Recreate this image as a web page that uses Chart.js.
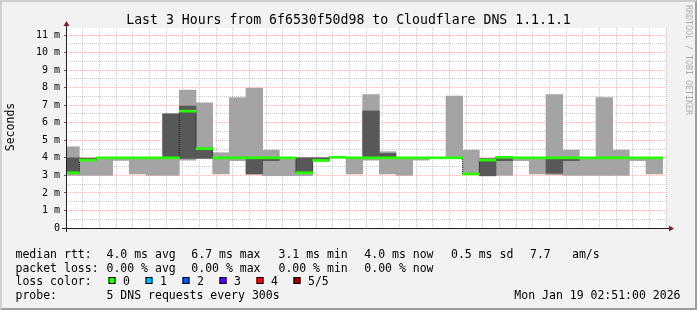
<!DOCTYPE html>
<html>
<head>
<meta charset="utf-8">
<title>Last 3 Hours from 6f6530f50d98 to Cloudflare DNS 1.1.1.1</title>
<script src="https://cdn.jsdelivr.net/npm/chart.js@4.4.1/dist/chart.umd.min.js"></script>
<style>
    html, body { margin: 0; padding: 0; background: #f2f2f2; }
    #wrap { width: 697px; height: 310px; }
</style>
</head>
<body>
<div id="wrap"><canvas id="rttChart" width="697" height="310"></canvas></div>
<script>
// Smokeping style RTT graph - 5 pings per 300s slot, sorted low -> high

const startTime = '23:51';
const endTime = '02:51';

// end time of each 5 minute slot
const slotEnds = [
    '23:55', '00:00', '00:05', '00:10', '00:15', '00:20', '00:25', '00:30', '00:35',
    '00:40', '00:45', '00:50', '00:55', '01:00', '01:05', '01:10', '01:15', '01:20',
    '01:25', '01:30', '01:35', '01:40', '01:45', '01:50', '01:55', '02:00', '02:05',
    '02:10', '02:15', '02:20', '02:25', '02:30', '02:35', '02:40', '02:45', '02:50'
];

// ms, one value per slot
const pingMin = [
    3.00, 3.00, 3.00, 3.85, 3.08, 3.00, 3.00, 3.87, 3.96, 3.08, 3.84, 3.07,
    2.98, 2.98, 2.98, 3.82, 4.00, 3.08, 3.87, 3.08, 3.00, 3.87, 3.99, 3.99,
    3.06, 2.97, 3.00, 3.84, 3.08, 3.04, 3.00, 3.00, 3.00, 3.00, 3.84, 3.08
];
const ping2 = [
    3.12, 3.85, 3.98, 3.98, 3.98, 3.98, 3.98, 3.97, 3.97, 3.99, 3.98, 3.08,
    3.84, 3.99, 3.12, 3.83, 4.01, 3.99, 3.98, 3.98, 3.99, 3.99, 3.99, 3.99,
    3.07, 2.98, 3.84, 3.99, 3.99, 3.12, 3.84, 3.99, 3.99, 3.99, 3.99, 3.99
];
const medianRtt = [
    3.15, 3.87, 4.00, 4.00, 4.00, 4.00, 4.00, 6.66, 4.52, 4.00, 4.00, 4.00,
    4.00, 4.00, 3.15, 3.85, 4.03, 4.00, 4.00, 4.00, 4.00, 4.00, 4.00, 4.00,
    3.08, 3.87, 4.03, 4.00, 4.00, 4.00, 4.00, 4.00, 4.00, 4.00, 4.00, 4.00
];
const ping4 = [
    4.00, 3.97, 4.01, 4.01, 4.01, 4.01, 6.50, 6.95, 4.55, 4.01, 4.02, 4.02,
    4.02, 4.01, 4.00, 4.00, 4.04, 4.01, 6.67, 4.25, 4.01, 4.01, 4.01, 4.01,
    3.10, 3.95, 4.05, 4.01, 4.01, 4.02, 4.02, 4.01, 4.01, 4.01, 4.01, 4.01
];
const pingMax = [
    4.63, 4.00, 4.02, 4.02, 4.02, 4.02, 6.52, 7.86, 7.14, 4.29, 7.43, 7.98,
    4.44, 4.02, 4.01, 4.01, 4.05, 4.02, 7.60, 4.35, 4.02, 4.02, 4.02, 7.52,
    4.44, 3.97, 4.05, 4.02, 4.02, 7.60, 4.44, 4.02, 7.43, 4.44, 4.02, 4.02
];

// legend
const rttStats = ['4.0 ms avg', '6.7 ms max', '3.1 ms min', '4.0 ms now', '0.5 ms sd'];
const lossStats = ['0.00 % avg', '0.00 % max', '0.00 % min', '0.00 % now'];
const amPerSec = '7.7';
const lossLabels = ['0', '1', '2', '3', '4', '5/5'];
const lossColors = ['#26ff00', '#00b8ff', '#0059ff', '#5e00ff', '#ff0000', '#a00000'];
const probeText = '5 DNS requests every 300s';
const stampText = 'Mon Jan 19 02:51:00 2026';
const titleText = 'Last 3 Hours from 6f6530f50d98 to Cloudflare DNS 1.1.1.1';

const yMax = 11.4;
const plotHeight = 200;
const MONO = '"DejaVu Sans Mono", "Liberation Mono", monospace';
const MAJOR_GRID = 'rgba(232, 90, 90, 0.42)';
const MINOR_GRID = 'rgba(150, 150, 150, 0.5)';

/**
 * 'HH:MM' -> minutes relative to 00:00 (previous evening negative)
 */
function toMinutes(hhmm) {
    const [h, m] = hhmm.split(':').map(Number);
    const mins = h * 60 + m;
    return h >= 12 ? mins - 1440 : mins;
}

function formatClock(mins) {
    const t = (mins + 1440) % 1440;
    const h = Math.floor(t / 60);
    const m = t % 60;
    return String(h).padStart(2, '0') + ':' + String(m).padStart(2, '0');
}

const slotCenters = slotEnds.map(t => toMinutes(t) - 2.5);
const bandHalf = yMax / plotHeight; // one pixel in ms

const outerSmoke = slotCenters.map((x, i) => ({ x: x, y: [pingMin[i], pingMax[i]] }));
const innerSmoke = slotCenters.map((x, i) => ({ x: x, y: [ping2[i], ping4[i]] }));
const medianBand = slotCenters.map((x, i) => ({ x: x, y: [medianRtt[i] - bandHalf, medianRtt[i] + bandHalf] }));
const medianLine = slotCenters.map((x, i) => ({ x: x, y: medianRtt[i] }));

function text(ctx, str, x, y, font, align, color) {
    ctx.font = font;
    ctx.textAlign = align || 'left';
    ctx.textBaseline = 'alphabetic';
    ctx.fillStyle = color || '#000000';
    ctx.fillText(str, x, y);
}

const smokeFrame = {
    id: 'smokeFrame',
    beforeDraw(chart) {
        const { ctx, chartArea: a } = chart;
        const W = chart.width, H = chart.height;
        ctx.save();
        ctx.fillStyle = '#f2f2f2';
        ctx.fillRect(0, 0, W, H);
        // 3d border
        ctx.fillStyle = '#cfcfcf';
        ctx.beginPath();
        ctx.moveTo(0, 0); ctx.lineTo(W, 0); ctx.lineTo(W - 2, 2); ctx.lineTo(2, 2);
        ctx.lineTo(2, H - 2); ctx.lineTo(0, H); ctx.closePath(); ctx.fill();
        ctx.fillStyle = '#9e9e9e';
        ctx.beginPath();
        ctx.moveTo(W, 0); ctx.lineTo(W, H); ctx.lineTo(0, H); ctx.lineTo(2, H - 2);
        ctx.lineTo(W - 2, H - 2); ctx.lineTo(W - 2, 2); ctx.closePath(); ctx.fill();
        ctx.fillStyle = '#ffffff';
        ctx.fillRect(a.left, a.top, a.right - a.left, a.bottom - a.top);
        ctx.restore();
    },
    afterDraw(chart) {
        const { ctx, chartArea: a } = chart;
        const x0 = a.left + 0.5;
        const y0 = a.bottom + 0.5;
        ctx.save();

        // axes
        ctx.strokeStyle = '#1f1f1f';
        ctx.lineWidth = 1;
        ctx.beginPath();
        ctx.moveTo(a.left - 4, y0); ctx.lineTo(a.right + 3, y0);
        ctx.moveTo(x0, a.bottom + 4); ctx.lineTo(x0, a.top - 3);
        ctx.stroke();

        // arrows
        ctx.fillStyle = '#801f1f';
        ctx.beginPath();
        ctx.moveTo(x0, a.top - 7); ctx.lineTo(x0 - 3, a.top - 2); ctx.lineTo(x0 + 3, a.top - 2);
        ctx.closePath(); ctx.fill();
        ctx.beginPath();
        ctx.moveTo(a.right + 8, y0); ctx.lineTo(a.right + 3, y0 - 3); ctx.lineTo(a.right + 3, y0 + 3);
        ctx.closePath(); ctx.fill();

        // title
        text(ctx, titleText, chart.width / 2, 24, '13.2px ' + MONO, 'center');

        // unit label
        ctx.save();
        ctx.translate(14, (a.top + a.bottom) / 2 - 1);
        ctx.rotate(-Math.PI / 2);
        text(ctx, 'Seconds', 0, 0, '11.5px ' + MONO, 'center');
        ctx.restore();

        // watermark
        ctx.save();
        ctx.translate(686, 5);
        ctx.rotate(Math.PI / 2);
        text(ctx, 'RRDTOOL / TOBI OETIKER', 0, 0, '8.3px ' + MONO, 'left', 'rgba(0,0,0,0.3)');
        ctx.restore();

        // legend
        const lf = '11.5px ' + MONO;
        const statX = [106.5, 191.3, 278.5, 364.3, 451];
        text(ctx, 'median rtt:', 15.5, 258, lf);
        rttStats.forEach((s, i) => text(ctx, s, statX[i], 258, lf));
        text(ctx, amPerSec, 530, 258, lf);
        text(ctx, 'am/s', 572, 258, lf);

        text(ctx, 'packet loss:', 15.5, 271.7, lf);
        lossStats.forEach((s, i) => text(ctx, s, statX[i], 271.7, lf));

        text(ctx, 'loss color:', 15.5, 285.4, lf);
        lossLabels.forEach((lbl, i) => {
            const bx = 108.5 + i * 37;
            ctx.fillStyle = lossColors[i];
            ctx.fillRect(bx, 277, 7, 7);
            ctx.strokeStyle = '#000000';
            ctx.strokeRect(bx + 0.5, 277.5, 6, 6);
            text(ctx, lbl, bx + 14.5, 285.4, lf);
        });

        text(ctx, 'probe:', 15.5, 299.1, lf);
        text(ctx, probeText, 106.5, 299.1, lf);
        text(ctx, stampText, 680.5, 299.1, lf, 'right');

        ctx.restore();
    }
};

const axisFont = { family: MONO, size: 10 };

new Chart(document.getElementById('rttChart'), {
    type: 'bar',
    data: {
        datasets: [
            {
                label: 'median',
                type: 'bar',
                data: medianBand,
                backgroundColor: lossColors[0],
                grouped: false,
                barPercentage: 1,
                categoryPercentage: 1,
                clip: 0,
                order: 1
            },
            {
                label: 'median line',
                type: 'line',
                data: medianLine,
                borderColor: '#1f1f1f',
                borderWidth: 1,
                borderDash: [1, 1],
                stepped: 'middle',
                pointRadius: 0,
                fill: false,
                clip: 0,
                order: 2
            },
            {
                label: 'ping 2-4',
                type: 'bar',
                data: innerSmoke,
                backgroundColor: '#585858',
                grouped: false,
                barPercentage: 1,
                categoryPercentage: 1,
                clip: 0,
                order: 3
            },
            {
                label: 'ping 1-5',
                type: 'bar',
                data: outerSmoke,
                backgroundColor: '#a4a4a4',
                grouped: false,
                barPercentage: 1,
                categoryPercentage: 1,
                clip: 0,
                order: 4
            }
        ]
    },
    options: {
        responsive: false,
        animation: false,
        layout: { padding: { left: 0, top: 28, right: 31, bottom: 62 } },
        plugins: {
            legend: { display: false },
            tooltip: { enabled: false },
            title: { display: false }
        },
        scales: {
            x: {
                type: 'linear',
                offset: false,
                min: toMinutes(startTime),
                max: toMinutes(endTime),
                afterFit: function(scale) {
                    scale.height = 20;
                    scale.paddingLeft = 0;
                    scale.paddingRight = 0;
                },
                grid: {
                    offset: false,
                    color: ctx => (ctx.tick && ctx.tick.value % 20 === 0) ? MAJOR_GRID : MINOR_GRID,
                    drawTicks: false,
                    lineWidth: 1
                },
                border: { display: false, dash: [1, 1] },
                ticks: {
                    stepSize: 5,
                    includeBounds: false,
                    autoSkip: false,
                    maxRotation: 0,
                    padding: 4,
                    color: '#000000',
                    font: axisFont,
                    callback: v => (v % 20 === 0 ? formatClock(v) : '')
                }
            },
            y: {
                min: 0,
                max: yMax,
                afterFit: function(scale) {
                    scale.width = 66;
                    scale.paddingTop = 0;
                    scale.paddingBottom = 0;
                },
                grid: {
                    color: ctx => (ctx.tick && Number.isInteger(ctx.tick.value)) ? MAJOR_GRID : MINOR_GRID,
                    drawTicks: true,
                    tickLength: 2,
                    tickColor: ctx => (ctx.tick && Number.isInteger(ctx.tick.value)) ? '#5a5a5a' : 'rgba(0,0,0,0)',
                    lineWidth: 1
                },
                border: { display: false, dash: [1, 1] },
                ticks: {
                    stepSize: 0.5,
                    includeBounds: false,
                    autoSkip: false,
                    padding: 4,
                    color: '#000000',
                    font: axisFont,
                    callback: v => (v === 0 ? '0' : (Number.isInteger(v) ? v + ' m' : ''))
                }
            }
        }
    },
    plugins: [smokeFrame]
});
</script>
</body>
</html>
